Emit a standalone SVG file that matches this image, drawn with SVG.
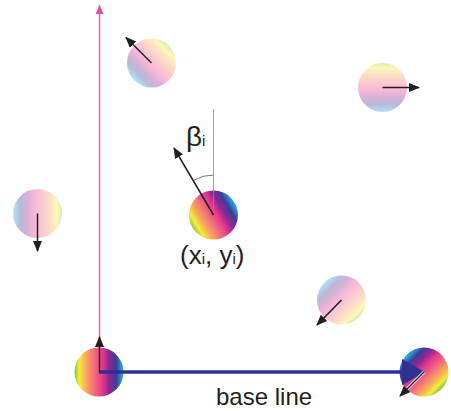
<svg xmlns="http://www.w3.org/2000/svg" width="451" height="411" viewBox="0 0 451 411">
<style>
.lbl{font-family:"Liberation Sans","Open Sans",Arial,sans-serif;fill:#231f20}
.pale{fill-opacity:0.36}
.blk{stroke:#231f20;stroke-width:1.5;fill:none}
</style>
<defs>
<linearGradient id="spec">
<stop offset="0" stop-color="#8cc63f"/>
<stop offset="0.1" stop-color="#f5ec3a"/>
<stop offset="0.24" stop-color="#f9a65a"/>
<stop offset="0.4" stop-color="#f26d7d"/>
<stop offset="0.56" stop-color="#e93a8f"/>
<stop offset="0.7" stop-color="#92278f"/>
<stop offset="0.85" stop-color="#3b3d9c"/>
<stop offset="1" stop-color="#29b6e6"/>
</linearGradient>
<linearGradient id="gOrigin" href="#spec" x1="0" y1="0.5" x2="1" y2="0.5"/>
<linearGradient id="gCenter" href="#spec" x1="0.07" y1="0.755" x2="0.93" y2="0.245"/>
<linearGradient id="gRight" href="#spec" x1="0.85" y1="0.85" x2="0.15" y2="0.15"/>
<linearGradient id="gTL" href="#spec" x1="0.85" y1="0.15" x2="0.15" y2="0.85"/>
<linearGradient id="gTR" href="#spec" x1="0.5" y1="0" x2="0.5" y2="1"/>
<linearGradient id="gL" href="#spec" x1="1" y1="0.5" x2="0" y2="0.5"/>
<linearGradient id="gBR" href="#spec" x1="0.85" y1="0.85" x2="0.15" y2="0.15"/>
<marker id="ah" markerUnits="userSpaceOnUse" markerWidth="11" markerHeight="10" refX="10" refY="4.5" orient="auto">
<path d="M0,0 L11,4.5 L0,9 z" fill="#231f20"/>
</marker>
<marker id="ahp" markerUnits="userSpaceOnUse" markerWidth="10" markerHeight="10" refX="9" refY="4" orient="auto">
<path d="M0,0 L9,4 L0,8 z" fill="#ec4b9b"/>
</marker>
</defs>

<g id="axes">
<line x1="99.5" y1="372" x2="99.5" y2="5" stroke="#ee5fa7" stroke-width="1.5" marker-end="url(#ahp)"/>
</g>

<g id="node-origin"><circle cx="99" cy="372" r="24.5" fill="url(#gOrigin)"/></g>
<g id="node-right"><circle cx="424" cy="372" r="24.5" fill="url(#gRight)"/></g>
<g id="node-center"><circle cx="213.5" cy="215" r="24.5" fill="url(#gCenter)"/></g>
<g id="node-topleft"><circle cx="151.5" cy="63" r="24.5" fill="url(#gTL)" class="pale"/></g>
<g id="node-topright"><circle cx="382.5" cy="87.5" r="24.5" fill="url(#gTR)" class="pale"/></g>
<g id="node-left"><circle cx="37.5" cy="213.5" r="24.5" fill="url(#gL)" class="pale"/></g>
<g id="node-bottomright"><circle cx="341.5" cy="300" r="24.5" fill="url(#gBR)" class="pale"/></g>

<g id="connectors">
<line x1="99" y1="372" x2="403" y2="372" stroke="#2e3192" stroke-width="3.5"/>
<path d="M402,359 L425,372 L402,385 z" fill="#2e3192"/>
<line x1="99.5" y1="372" x2="99.5" y2="337" class="blk" marker-end="url(#ah)"/>
<line x1="151.5" y1="63" x2="126" y2="37.5" class="blk" marker-end="url(#ah)"/>
<line x1="382.5" y1="87.5" x2="419" y2="87.5" class="blk" marker-end="url(#ah)"/>
<line x1="37.5" y1="213.5" x2="37.5" y2="251" class="blk" marker-end="url(#ah)"/>
<line x1="341.5" y1="300" x2="317" y2="325" class="blk" marker-end="url(#ah)"/>
<line x1="213.5" y1="109" x2="213.5" y2="215" stroke="#8a8a8a" stroke-width="0.8"/>
<path d="M193.4,180.4 A40,40 0 0,1 213.5,175" stroke="#555" stroke-width="0.8" fill="none"/>
<line x1="213.5" y1="215" x2="174" y2="148" class="blk" marker-end="url(#ah)"/>
<line x1="424" y1="372" x2="400" y2="396" stroke="#fff" stroke-width="3"/>
<line x1="424" y1="372" x2="400" y2="396" class="blk" marker-end="url(#ah)"/>
</g>

<g id="labels">
<text class="lbl" x="186" y="146" font-size="28">β<tspan font-size="15">i</tspan></text>
<text class="lbl" x="180" y="264" font-size="26">(x<tspan font-size="15">i</tspan>, y<tspan font-size="15">i</tspan>)</text>
<text class="lbl" x="216" y="405" font-size="24">base line</text>
</g>
</svg>
